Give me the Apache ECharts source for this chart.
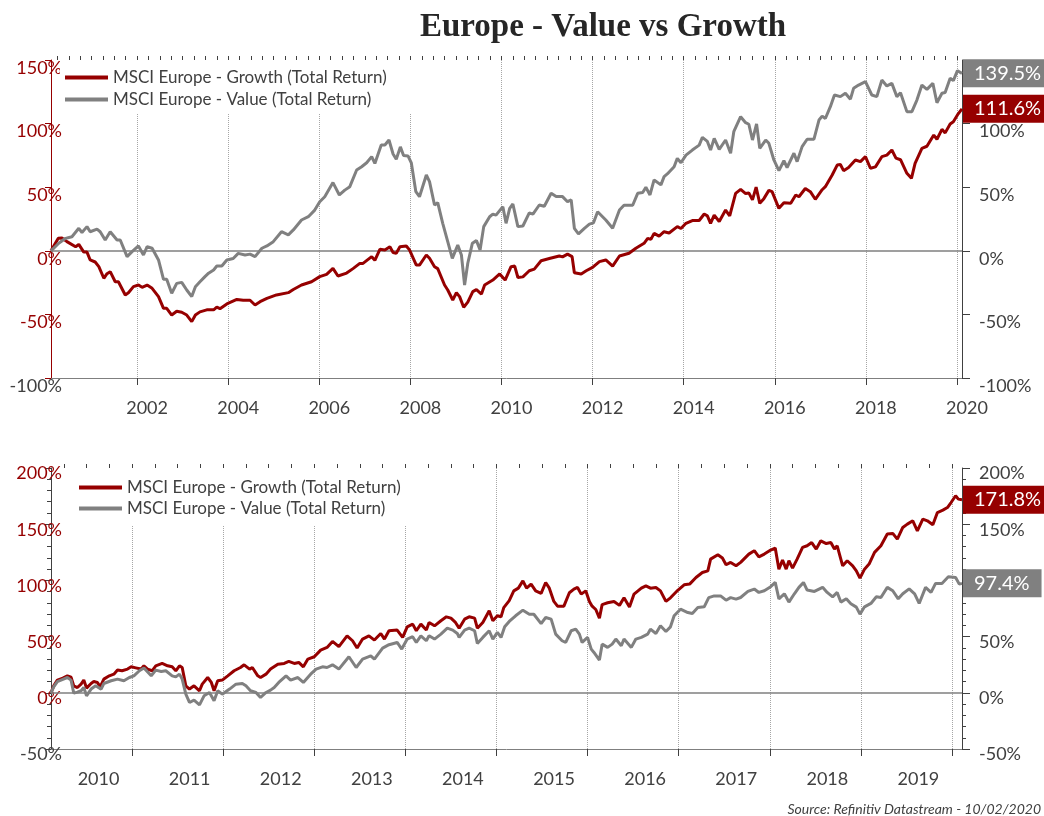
<!DOCTYPE html>
<html>
<head>
<meta charset="utf-8">
<title>Europe - Value vs Growth</title>
<script src="https://cdn.jsdelivr.net/npm/echarts@6/dist/echarts.min.js"></script>
<style>
  html, body { margin: 0; padding: 0; background: #fff; }
  #chart { width: 1044px; height: 816px; }
</style>
</head>
<body>
<div id="chart"></div>
<script>
'use strict'

/*-----Data (decimal year, % total return)-----*/
var growthTop = [[2000.11,0],[2000.27,9.8],[2000.35,10],[2000.46,7.2],[2000.65,3.2],[2000.72,5],[2000.83,-1],[2000.90,-1],[2000.97,-7.2],[2001.08,-8.8],[2001.16,-12.5],[2001.27,-21.6],[2001.34,-18],[2001.41,-16.4],[2001.52,-24.3],[2001.59,-24.3],[2001.74,-34.7],[2001.81,-33],[2001.92,-28.2],[2002.03,-26.9],[2002.11,-28.7],[2002.22,-26.9],[2002.33,-29.5],[2002.47,-36],[2002.58,-45.2],[2002.65,-45.2],[2002.76,-50.5],[2002.87,-47.5],[2002.98,-48.3],[2003.09,-50.5],[2003.20,-55.7],[2003.28,-50.5],[2003.38,-48],[2003.53,-46.4],[2003.68,-46.4],[2003.75,-44.3],[2003.82,-45.5],[2003.97,-41.8],[2004.19,-38.2],[2004.33,-38.9],[2004.48,-38.9],[2004.59,-42.6],[2004.70,-40],[2004.85,-37.4],[2005.06,-34.7],[2005.32,-32.9],[2005.43,-30.4],[2005.61,-26.9],[2005.83,-24.3],[2006.01,-20.3],[2006.16,-18.5],[2006.30,-13.8],[2006.41,-19.8],[2006.60,-17.5],[2006.74,-14],[2006.89,-9.9],[2006.96,-9.9],[2007.15,-4.6],[2007.22,-7.5],[2007.33,1.2],[2007.44,0.6],[2007.55,3.2],[2007.62,-1.3],[2007.69,-1.9],[2007.77,3.2],[2007.91,3.8],[2007.98,0.7],[2008.13,-11.2],[2008.20,-11.2],[2008.35,-3.3],[2008.42,-5.9],[2008.53,-12.5],[2008.60,-14],[2008.75,-26.9],[2008.82,-30.8],[2008.93,-38.7],[2009.01,-33],[2009.08,-36],[2009.17,-44.4],[2009.26,-40.3],[2009.37,-32.1],[2009.45,-30.5],[2009.56,-34],[2009.63,-26.9],[2009.81,-23],[2009.96,-18.2],[2010.08,-23],[2010.21,-12.5],[2010.29,-12],[2010.36,-21],[2010.47,-20.5],[2010.61,-15.7],[2010.72,-14.4],[2010.87,-7.8],[2011.05,-6.1],[2011.27,-4.1],[2011.34,-4.8],[2011.45,-2.6],[2011.55,-4.6],[2011.60,-17.2],[2011.75,-18.2],[2011.86,-15.7],[2012.00,-13],[2012.15,-8.5],[2012.29,-7.2],[2012.44,-12],[2012.59,-4.1],[2012.80,-1.9],[2012.95,2],[2013.13,5.9],[2013.21,9.8],[2013.28,9],[2013.35,13.7],[2013.46,11.5],[2013.57,15],[2013.68,14],[2013.86,19],[2013.94,17.5],[2014.05,21.6],[2014.19,23.8],[2014.34,23.8],[2014.45,28.9],[2014.52,27.5],[2014.59,21.6],[2014.67,28],[2014.78,23],[2014.92,32],[2015.01,27.5],[2015.14,45.2],[2015.25,48.3],[2015.36,45],[2015.43,45.5],[2015.51,40],[2015.59,50],[2015.67,37.3],[2015.76,41],[2015.87,47.5],[2015.94,46.5],[2016.09,33.4],[2016.20,37.8],[2016.35,37.3],[2016.46,43.9],[2016.53,42.5],[2016.67,49],[2016.78,46.5],[2016.89,40.5],[2017.04,48],[2017.11,50.4],[2017.26,59.6],[2017.37,67.4],[2017.44,67.8],[2017.51,63],[2017.62,65.5],[2017.77,71.4],[2017.88,70.1],[2017.99,74],[2018.10,64.9],[2018.21,66],[2018.35,74],[2018.46,75.2],[2018.57,79.2],[2018.66,72.9],[2018.76,71.6],[2018.90,60.9],[2019.00,57],[2019.08,68.7],[2019.23,80.6],[2019.34,82.2],[2019.49,91],[2019.56,87.7],[2019.67,95.5],[2019.74,92.7],[2019.85,99.7],[2019.92,101.5],[2020.01,106.8],[2020.11,111.6]];

var valueTop = [[2000.11,0],[2000.28,5.9],[2000.43,9.8],[2000.57,11.1],[2000.72,17.7],[2000.79,14.4],[2000.90,19],[2000.97,15],[2001.12,17],[2001.19,15],[2001.30,8.5],[2001.41,15],[2001.56,8.5],[2001.63,8.5],[2001.78,-4.6],[2001.89,-0.7],[2002.03,3.8],[2002.14,-3.3],[2002.22,3.2],[2002.33,2],[2002.47,-7.2],[2002.58,-22.4],[2002.65,-22.4],[2002.76,-33.4],[2002.87,-25.6],[2002.98,-24.8],[2003.09,-30.8],[2003.20,-36],[2003.28,-28.2],[2003.38,-24.3],[2003.49,-20.3],[2003.57,-17.6],[2003.68,-15.1],[2003.75,-12],[2003.86,-12],[2003.97,-7.2],[2004.11,-6],[2004.22,-2],[2004.37,-3.3],[2004.48,-2.6],[2004.59,-4.6],[2004.74,2],[2004.85,3.8],[2004.99,7.2],[2005.17,15],[2005.32,12.5],[2005.43,16.4],[2005.61,24.2],[2005.76,26.8],[2005.90,32],[2006.01,38.6],[2006.12,42.5],[2006.30,53.6],[2006.44,43.9],[2006.56,47.7],[2006.67,50.4],[2006.82,63.5],[2006.93,66.1],[2007.04,69.2],[2007.15,74],[2007.22,68.7],[2007.36,83.2],[2007.44,83.2],[2007.53,87.1],[2007.62,76.1],[2007.69,72],[2007.78,81.7],[2007.85,74.9],[2007.95,74.5],[2008.02,69.2],[2008.12,46.5],[2008.20,42.5],[2008.35,59.6],[2008.42,54.4],[2008.53,36],[2008.60,37.8],[2008.71,21.6],[2008.82,7.2],[2008.92,-5.9],[2009.04,4.5],[2009.12,-3.3],[2009.19,-26.9],[2009.26,-9.8],[2009.36,5.9],[2009.45,8],[2009.53,0.7],[2009.61,19],[2009.74,26.8],[2009.81,28.8],[2009.88,28],[2010.03,34.7],[2010.10,21.6],[2010.18,33.4],[2010.25,36.8],[2010.36,19],[2010.47,19.5],[2010.61,29.8],[2010.69,28.8],[2010.83,36],[2010.94,35],[2011.09,45.2],[2011.20,42.6],[2011.34,42.6],[2011.45,38.6],[2011.53,40],[2011.60,17.7],[2011.69,13.3],[2011.82,17.7],[2011.93,21],[2012.02,22],[2012.11,30.7],[2012.29,24.2],[2012.44,17.7],[2012.59,32],[2012.69,35.8],[2012.88,35.8],[2012.99,45.2],[2013.10,45.8],[2013.17,50],[2013.26,43.9],[2013.35,55.7],[2013.50,51.8],[2013.57,58.3],[2013.64,60.4],[2013.79,66.1],[2013.86,72.7],[2013.94,69.2],[2014.05,75.2],[2014.19,79.2],[2014.34,83.1],[2014.41,89.2],[2014.52,86],[2014.59,79.2],[2014.67,88.4],[2014.78,79.8],[2014.92,87.1],[2015.03,76.7],[2015.10,93.6],[2015.25,105.4],[2015.36,100.7],[2015.43,99.5],[2015.51,87.1],[2015.60,99.7],[2015.67,80.6],[2015.80,87.1],[2015.87,84.5],[2015.98,71.4],[2016.09,63],[2016.20,70.8],[2016.27,65.5],[2016.42,76.7],[2016.49,70.1],[2016.60,81.9],[2016.71,87.7],[2016.86,87.7],[2016.97,102.8],[2017.04,105.9],[2017.11,104],[2017.22,113.3],[2017.31,122.5],[2017.44,121.2],[2017.55,123.9],[2017.66,119.2],[2017.73,127.7],[2017.84,130.3],[2017.99,133],[2018.13,122.5],[2018.24,121.2],[2018.35,134.2],[2018.46,129.6],[2018.57,131.6],[2018.68,121.2],[2018.76,124.3],[2018.90,109.4],[2019.01,109.4],[2019.12,118.5],[2019.23,130.3],[2019.34,126.9],[2019.47,131.6],[2019.56,116.4],[2019.67,123.9],[2019.74,124.5],[2019.85,135.6],[2019.92,133.8],[2020.01,141.6],[2020.11,139.5]];

var growthBottom = [[2010.11,0],[2010.14,6.2],[2010.18,11.3],[2010.24,13],[2010.29,15.1],[2010.33,13.9],[2010.36,6.2],[2010.40,4.7],[2010.44,7.7],[2010.47,11.3],[2010.50,4.2],[2010.55,8.3],[2010.58,10],[2010.62,9.2],[2010.65,5.3],[2010.69,12.2],[2010.75,15.1],[2010.80,16.6],[2010.84,20.2],[2010.89,19.6],[2010.95,21.1],[2010.99,23.1],[2011.04,22.2],[2011.10,21.1],[2011.13,24],[2011.17,21.1],[2011.22,19.6],[2011.26,24],[2011.33,26.1],[2011.39,24],[2011.44,23.1],[2011.48,19.6],[2011.52,24],[2011.55,22.5],[2011.59,6.2],[2011.63,3.3],[2011.68,6.2],[2011.74,1.8],[2011.77,7.7],[2011.83,13.6],[2011.87,9.2],[2011.90,1.8],[2011.94,10.7],[2011.99,11.3],[2012.05,15.1],[2012.12,19.6],[2012.19,22.5],[2012.23,24.9],[2012.29,21.1],[2012.32,22.5],[2012.38,15.1],[2012.41,13.6],[2012.47,16.6],[2012.52,21.1],[2012.60,25.5],[2012.67,26.1],[2012.72,27.9],[2012.78,26.1],[2012.83,27],[2012.88,23.1],[2012.93,30],[2013.00,32.1],[2013.07,38],[2013.14,40.4],[2013.20,45.7],[2013.27,41],[2013.36,50.7],[2013.42,46.3],[2013.47,39.8],[2013.53,47.8],[2013.60,50.7],[2013.66,46.9],[2013.73,52.8],[2013.77,47.8],[2013.82,55.2],[2013.91,55.8],[2013.97,49.3],[2014.02,58.7],[2014.08,61.1],[2014.12,55.2],[2014.17,61.1],[2014.23,55.8],[2014.26,62.6],[2014.32,59.6],[2014.39,64.1],[2014.45,67.6],[2014.50,66.4],[2014.55,62.6],[2014.59,57.5],[2014.65,65.5],[2014.70,67.6],[2014.76,66.4],[2014.79,57.5],[2014.85,62.6],[2014.92,73],[2014.96,64.1],[2015.01,68.5],[2015.05,67.6],[2015.08,75.8],[2015.14,82],[2015.19,90.7],[2015.24,93.1],[2015.29,99.6],[2015.33,93.1],[2015.38,96.7],[2015.43,90.7],[2015.49,88.4],[2015.54,98.1],[2015.58,93.1],[2015.63,81.3],[2015.67,77.1],[2015.74,77.1],[2015.80,89],[2015.85,92.2],[2015.89,93.7],[2015.93,87.8],[2015.98,90.7],[2016.02,81.3],[2016.05,77.1],[2016.09,74.1],[2016.13,66.4],[2016.16,78.5],[2016.22,80.1],[2016.29,81.3],[2016.35,77.8],[2016.40,84.5],[2016.46,76.3],[2016.51,87.8],[2016.59,93.1],[2016.64,95.2],[2016.69,93.1],[2016.75,93.7],[2016.80,90.7],[2016.86,81.3],[2016.91,84.5],[2016.99,91.2],[2017.06,96.1],[2017.12,96.7],[2017.19,102.6],[2017.26,107],[2017.32,108.5],[2017.35,118.9],[2017.43,122.8],[2017.48,119.9],[2017.52,113.9],[2017.57,116],[2017.63,113],[2017.68,116],[2017.77,123.4],[2017.83,126.4],[2017.88,120.9],[2017.94,123.4],[2018.01,127],[2018.06,128.8],[2018.10,110],[2018.14,118],[2018.18,110],[2018.21,117.5],[2018.25,110.9],[2018.30,118.9],[2018.36,129.3],[2018.41,130.8],[2018.46,133.7],[2018.51,127.9],[2018.56,135.2],[2018.62,132.8],[2018.67,133.7],[2018.71,127.9],[2018.74,130.8],[2018.80,113],[2018.85,117.5],[2018.91,113],[2018.95,108.5],[2018.99,102],[2019.04,110],[2019.09,114.5],[2019.15,124.9],[2019.22,130.8],[2019.29,141.2],[2019.35,141.8],[2019.40,136.7],[2019.46,147.1],[2019.51,150.1],[2019.57,153],[2019.62,144.1],[2019.68,154.5],[2019.73,153],[2019.79,149.5],[2019.84,160.4],[2019.90,162.5],[2019.95,164.8],[2019.99,169.3],[2020.04,175.3],[2020.07,172.3],[2020.11,171.8]];

var valueBottom = [[2010.11,0],[2010.14,5.3],[2010.18,10],[2010.24,12],[2010.29,13.6],[2010.33,11.3],[2010.36,-0.3],[2010.40,0.6],[2010.44,1.8],[2010.47,4.7],[2010.50,-2.7],[2010.55,3.3],[2010.60,6.2],[2010.66,3.3],[2010.69,8.3],[2010.77,10.7],[2010.84,12.2],[2010.91,10.7],[2010.97,13.6],[2011.02,15.1],[2011.08,19.6],[2011.13,22],[2011.21,15.1],[2011.26,20.2],[2011.32,19],[2011.37,19.6],[2011.44,15.1],[2011.48,14.2],[2011.52,16.6],[2011.55,12.2],[2011.59,-1.2],[2011.63,-8.6],[2011.68,-6.5],[2011.74,-10.7],[2011.79,-2.7],[2011.85,0.3],[2011.90,-7.1],[2011.94,1.8],[2011.99,-1.2],[2012.07,3.3],[2012.14,7.7],[2012.21,8.3],[2012.25,6.2],[2012.30,1.8],[2012.36,0.3],[2012.41,-4.2],[2012.47,0.3],[2012.52,2.4],[2012.56,4.7],[2012.61,9.2],[2012.69,15.1],[2012.74,11.3],[2012.82,13.6],[2012.88,9.2],[2012.96,16.6],[2013.02,21.1],[2013.09,23.1],[2013.14,22.5],[2013.20,24.9],[2013.27,21.1],[2013.38,32.1],[2013.46,22.5],[2013.53,30],[2013.62,32.9],[2013.66,30],[2013.75,39.8],[2013.82,42.8],[2013.91,44.8],[2013.96,38.9],[2014.02,47.8],[2014.08,49.9],[2014.12,44.8],[2014.17,50.7],[2014.23,46.3],[2014.26,50.7],[2014.32,47.8],[2014.39,52.2],[2014.46,57.5],[2014.52,55.8],[2014.57,52.8],[2014.59,49.3],[2014.65,55.8],[2014.70,57.5],[2014.76,55.2],[2014.79,43.9],[2014.85,49.3],[2014.92,55.2],[2014.96,47.8],[2015.01,53.7],[2015.05,49.3],[2015.09,58.7],[2015.14,63.5],[2015.21,68.5],[2015.29,73.5],[2015.36,69.9],[2015.41,69.9],[2015.49,61.6],[2015.54,67],[2015.60,65.5],[2015.65,52.2],[2015.72,46.3],[2015.76,44.8],[2015.82,55.2],[2015.87,56.6],[2015.91,52.2],[2015.94,44.8],[2016.00,49.3],[2016.04,38.9],[2016.07,35.9],[2016.13,29.1],[2016.16,43.3],[2016.22,40.4],[2016.27,43.3],[2016.31,47.8],[2016.37,41.9],[2016.40,47.8],[2016.48,40.4],[2016.53,47.8],[2016.59,49.3],[2016.66,52.2],[2016.69,56.6],[2016.75,52.8],[2016.80,59.6],[2016.86,54.6],[2016.91,58.7],[2016.95,68.5],[2017.02,74.4],[2017.10,71.4],[2017.15,70.5],[2017.21,75.9],[2017.28,76.5],[2017.33,84.7],[2017.39,86.2],[2017.46,86.2],[2017.52,82.4],[2017.57,84.7],[2017.63,83.3],[2017.68,84.8],[2017.76,90.2],[2017.83,92.3],[2017.88,89.3],[2017.94,90.8],[2018.01,94.4],[2018.06,98.2],[2018.10,83.6],[2018.16,88.1],[2018.21,80.7],[2018.27,88.1],[2018.32,93.8],[2018.37,98.2],[2018.41,91.4],[2018.49,90.2],[2018.58,93.8],[2018.63,89.3],[2018.69,85.4],[2018.74,89.3],[2018.78,80.7],[2018.84,83.6],[2018.89,79.2],[2018.95,76.2],[2018.99,70],[2019.04,76.5],[2019.11,79.5],[2019.17,85.4],[2019.22,84.8],[2019.29,93.8],[2019.35,90.8],[2019.41,83.6],[2019.46,88.1],[2019.53,92.5],[2019.59,88.1],[2019.64,79.5],[2019.71,93.8],[2019.77,89.3],[2019.82,97.3],[2019.89,97.3],[2019.96,103.2],[2020.04,102.6],[2020.08,96.7],[2020.11,97.4]];

var seriesNames = ['MSCI Europe - Growth (Total Return)', 'MSCI Europe - Value (Total Return)'];
var topYears = [2002, 2004, 2006, 2008, 2010, 2012, 2014, 2016, 2018, 2020];
var bottomYears = [2010, 2011, 2012, 2013, 2014, 2015, 2016, 2017, 2018, 2019];
var topRange = [2000.11, 2020.11];
var bottomRange = [2010.11, 2020.11];

/*-----Styles-----*/
var RED = '#960000';
var GREY = '#808080';
var TXT = '#404040';
var FONT = 'Lato';

function quarters(range) {
	var out = [];
	for (var y = Math.floor(range[0]); y <= Math.ceil(range[1]); y++) {
		[0, 0.25, 0.5, 0.75].forEach(function(q) {
			if (y + q >= range[0] && y + q <= range[1]) out.push(y + q);
		});
	}
	return out;
}

function pct(v) { return v + '%'; }

function xMain(grid, range, ticks, labels, shift) {
	return {
		type: 'value', gridIndex: grid, min: range[0], max: range[1],
		axisLine: { show: true, onZero: false, lineStyle: { color: '#7f7f7f', width: 1 } },
		axisTick: { show: true, customValues: ticks, length: 7, lineStyle: { color: TXT } },
		axisLabel: {
			customValues: labels, fontFamily: FONT, fontSize: 18, color: TXT, margin: 21,
			padding: [0, 0, 0, shift],
			formatter: function(v) { return Math.floor(v + 0.001) + ''; }
		},
		splitLine: { show: true, lineStyle: { type: 'dotted', color: '#a6a6a6', width: 1 } }
	};
}

function xMinor(grid, range) {
	return {
		type: 'value', gridIndex: grid, min: range[0], max: range[1],
		axisLine: { show: false, onZero: false },
		axisTick: { show: true, customValues: quarters(range), length: 4, lineStyle: { color: TXT } },
		axisLabel: { show: false },
		splitLine: { show: false }
	};
}

// labels sit a little below their tick, as in the original
function yAxis(grid, pos, min, max, lineColor, labelColor, minor, drop) {
	return {
		type: 'value', gridIndex: grid, position: pos, min: min, max: max, interval: 50,
		axisLine: { show: true, lineStyle: { color: lineColor, width: 1 } },
		axisTick: { show: true, length: pos === 'left' ? 6 : 8, lineStyle: { color: lineColor } },
		minorTick: { show: minor, splitNumber: 5, length: 4, lineStyle: { color: lineColor } },
		splitLine: { show: false },
		axisLabel: {
			fontFamily: FONT, fontSize: 18, formatter: pct,
			margin: pos === 'left' ? -11 : 17,
			verticalAlign: 'top', lineHeight: drop * 2,
			color: function(v) { return (+v === min && pos === 'left') ? TXT : labelColor; }
		}
	};
}

function line(name, data, color, xi, yi, zero) {
	var s = {
		name: name, type: 'line', data: data, xAxisIndex: xi, yAxisIndex: yi,
		symbol: 'none', color: color,
		lineStyle: { color: color, width: 3 },
		endLabel: {
			show: true, distance: 1, color: '#fff', backgroundColor: color,
			fontFamily: FONT, fontSize: 20, padding: [4, 12, 4, 11],
			formatter: function(p) { return p.value[1].toFixed(1) + '%'; }
		}
	};
	if (zero) {
		s.markLine = {
			silent: true, z: 1, symbol: ['none', 'none'], label: { show: false },
			lineStyle: { color: '#7f7f7f', width: 1.5, type: 'solid' },
			data: [{ yAxis: 0 }]
		};
	}
	return s;
}

function legend(top, left, padding, gap) {
	return {
		data: seriesNames, orient: 'vertical', top: top, left: left,
		padding: padding, itemGap: gap, backgroundColor: '#fff',
		icon: 'rect', itemWidth: 43, itemHeight: 4, selectedMode: false,
		textStyle: { fontFamily: FONT, fontSize: 17, color: TXT }
	};
}

var chart = echarts.init(document.getElementById('chart'));
var option = {
	animation: false,
	backgroundColor: '#fff',
	grid: [
		{ left: 51, right: 82, top: 60, height: 318 },
		{ left: 51, right: 82, top: 468, height: 281 }
	],
	legend: [
		legend(60, 60, [9, 30, 5, 5], 5),
		legend(468, 65, [11, 12, 9, 14], 4)
	],
	xAxis: [
		xMain(0, topRange, topYears, topYears, 20),
		xMinor(0, topRange),
		xMain(1, bottomRange, bottomYears.map(function(y) { return y + 1; }), bottomYears.map(function(y) { return y + 0.5; }), 24),
		xMinor(1, bottomRange)
	],
	yAxis: [
		yAxis(0, 'left', -100, 150, RED, RED, false, 8),
		yAxis(0, 'right', -100, 150, TXT, TXT, false, 8),
		yAxis(1, 'left', -50, 200, TXT, RED, true, 5.5),
		yAxis(1, 'right', -50, 200, TXT, TXT, true, 5.5)
	],
	series: [
		line(seriesNames[0], growthTop, RED, 0, 0, true),
		line(seriesNames[1], valueTop, GREY, 0, 0, false),
		line(seriesNames[0], growthBottom, RED, 2, 2, true),
		line(seriesNames[1], valueBottom, GREY, 2, 2, false)
	],
	graphic: [{
		type: 'text', x: 603, y: 27,
		style: { text: 'Europe - Value vs Growth', font: 'bold 33px "Liberation Serif"', fill: '#262626', align: 'center', verticalAlign: 'middle' }
	}, {
		type: 'text', x: 1041, y: 809,
		style: { text: 'Source: Refinitiv Datastream - 10/02/2020', font: 'italic 14px Lato', fill: TXT, align: 'right', verticalAlign: 'middle' }
	}]
};
chart.setOption(option);
</script>
</body>
</html>
